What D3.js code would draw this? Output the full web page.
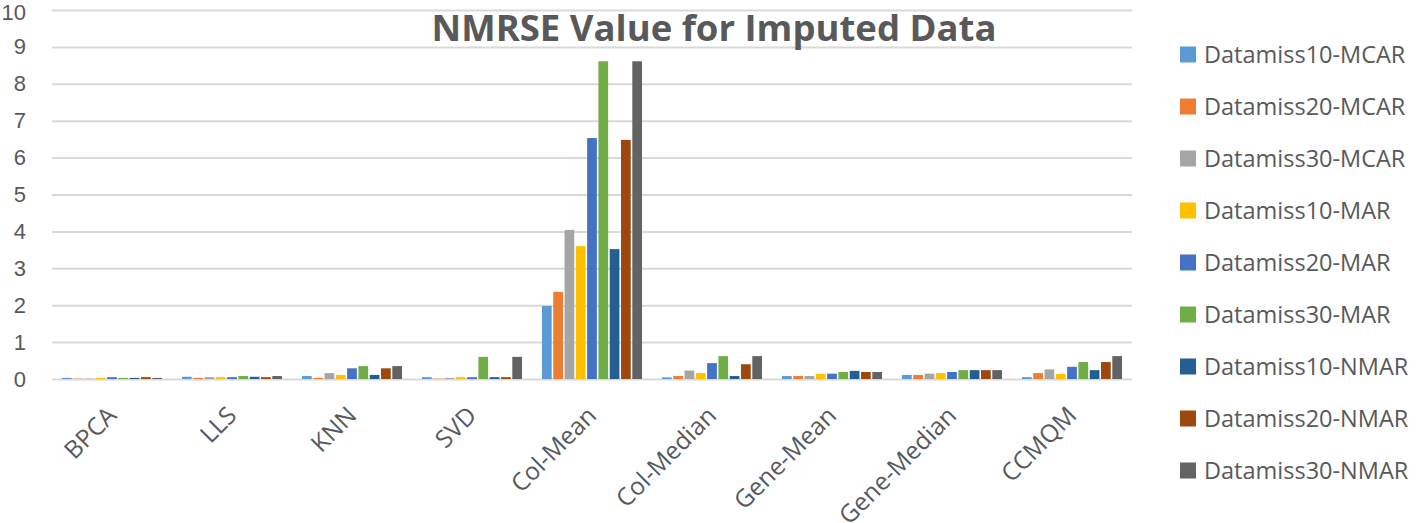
<!DOCTYPE html>
<html>
<head>
<meta charset="utf-8">
<script src="https://cdn.jsdelivr.net/npm/d3@7"></script>
<style>
  body { margin: 0; background: #fff; }
  svg { display: block; font-family: "Open Sans", "Noto Sans", sans-serif; }
</style>
</head>
<body>
<div id="chart"></div>
<script>
// categories (imputation methods)
const categories = ["BPCA", "LLS", "KNN", "SVD", "Col-Mean", "Col-Median", "Gene-Mean", "Gene-Median", "CCMQM"];

const seriesNames = [
  "Datamiss10-MCAR", "Datamiss20-MCAR", "Datamiss30-MCAR",
  "Datamiss10-MAR", "Datamiss20-MAR", "Datamiss30-MAR",
  "Datamiss10-NMAR", "Datamiss20-NMAR", "Datamiss30-NMAR"
];

// values, one array per series
const miss10MCAR = [0.03, 0.06, 0.08, 0.05, 1.98, 0.045, 0.08, 0.11, 0.05];
const miss20MCAR = [0.01, 0.03, 0.03, 0.01, 2.36, 0.08, 0.08, 0.11, 0.16];
const miss30MCAR = [0.01, 0.05, 0.16, 0.03, 4.04, 0.23, 0.08, 0.145, 0.26];
const miss10MAR  = [0.03, 0.05, 0.11, 0.05, 3.60, 0.16, 0.135, 0.16, 0.135];
const miss20MAR  = [0.05, 0.05, 0.29, 0.05, 6.53, 0.43, 0.145, 0.19, 0.33];
const miss30MAR  = [0.03, 0.08, 0.35, 0.60, 8.61, 0.62, 0.19, 0.24, 0.46];
const miss10NMAR = [0.03, 0.06, 0.11, 0.05, 3.52, 0.08, 0.22, 0.24, 0.24];
const miss20NMAR = [0.05, 0.05, 0.29, 0.05, 6.48, 0.40, 0.19, 0.24, 0.46];
const miss30NMAR = [0.03, 0.08, 0.35, 0.60, 8.61, 0.62, 0.19, 0.24, 0.62];

const yTicks = [0, 1, 2, 3, 4, 5, 6, 7, 8, 9, 10];

const colors = ["#5B9BD5", "#ED7D31", "#A5A5A5", "#FFC000", "#4472C4", "#70AD47", "#255E91", "#9E480E", "#636363"];

const seriesValues = [miss10MCAR, miss20MCAR, miss30MCAR, miss10MAR, miss20MAR, miss30MAR, miss10NMAR, miss20NMAR, miss30NMAR];

const width = 1417, height = 523;
const plot = { left: 52, right: 1132, top: 10, bottom: 379 };
const textColor = "#595959";
const gridColor = "#D9D9D9";

const svg = d3.select("#chart").append("svg")
  .attr("width", width)
  .attr("height", height);

const x0 = d3.scaleBand()
  .domain(categories)
  .range([plot.left, plot.right])
  .paddingInner(0.14)
  .paddingOuter(0.07);

const x1 = d3.scaleBand()
  .domain(seriesNames)
  .range([0, x0.bandwidth()])
  .padding(0.14);

const y = d3.scaleLinear()
  .domain([0, 10])
  .range([plot.bottom, plot.top]);

// gridlines + y labels
const yAxis = svg.append("g")
  .attr("transform", `translate(${plot.left},0)`)
  .call(d3.axisLeft(y).tickValues(yTicks).tickSize(-(plot.right - plot.left)).tickPadding(26));
yAxis.select(".domain").remove();
yAxis.selectAll(".tick line").attr("stroke", gridColor).attr("stroke-width", 2);
yAxis.selectAll(".tick text")
  .attr("fill", textColor)
  .attr("dy", d => d === 10 ? "0.42em" : "0.32em")
  .style("font-size", "22px");

// bars
const groups = svg.append("g").selectAll("g")
  .data(categories)
  .join("g")
  .attr("transform", d => `translate(${x0(d)},0)`);

groups.selectAll("rect")
  .data((cat, ci) => seriesNames.map((s, si) => ({ series: s, si, value: seriesValues[si][ci] })))
  .join("rect")
  .attr("x", d => x1(d.series))
  .attr("width", x1.bandwidth())
  .attr("y", d => y(d.value))
  .attr("height", d => y(0) - y(d.value))
  .attr("fill", d => colors[d.si]);

// x labels, rotated
svg.append("g").selectAll("text")
  .data(categories)
  .join("text")
  .attr("transform", d => `translate(${x0(d) + x0.bandwidth() / 2 + 6},${plot.bottom + 38}) rotate(-45)`)
  .attr("text-anchor", "end")
  .attr("fill", textColor)
  .style("font-size", "24.5px")
  .text(d => d);

// title
svg.append("text")
  .attr("x", 714)
  .attr("y", 41)
  .attr("text-anchor", "middle")
  .attr("fill", textColor)
  .style("font-size", "36.5px")
  .style("font-weight", "bold")
  .text("NMRSE Value for Imputed Data");

// legend
const legend = svg.append("g").selectAll("g")
  .data(seriesNames)
  .join("g")
  .attr("transform", (d, i) => `translate(1180,${54.5 + i * 52})`);

legend.append("rect")
  .attr("x", 0)
  .attr("y", -8)
  .attr("width", 16)
  .attr("height", 16)
  .attr("fill", (d, i) => colors[i]);

legend.append("text")
  .attr("x", 24)
  .attr("y", 8.5)
  .attr("fill", textColor)
  .style("font-size", "23.5px")
  .text(d => d);
</script>
</body>
</html>
